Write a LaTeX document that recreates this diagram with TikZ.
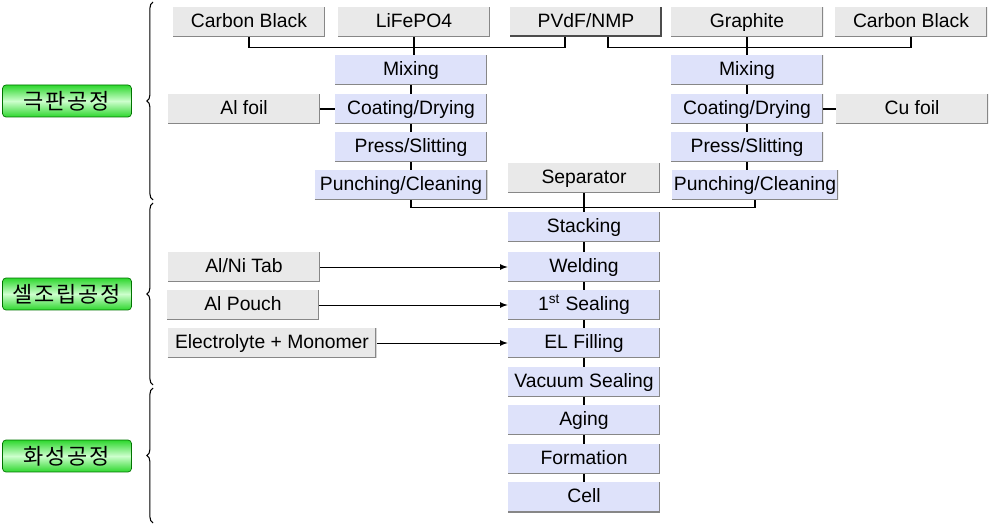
\documentclass[tikz,border=0pt]{standalone}
\usepackage{fontspec}
\setmainfont{Liberation Sans}
\newfontfamily\krfont[LetterSpace=8]{Noto Sans CJK KR}
\usetikzlibrary{arrows}
\usetikzlibrary{calc}
\usetikzlibrary{decorations.pathreplacing}

\definecolor{boxgray}{RGB}{233,233,233}
\definecolor{boxblue}{RGB}{222,226,250}
\definecolor{edgegray}{RGB}{135,135,135}
\definecolor{stagegreen}{RGB}{45,215,45}
\definecolor{stagelight}{RGB}{205,255,205}

\tikzset{
	procbox/.style={minimum width=3.04cm, minimum height=0.6cm, inner sep=0pt,
			text height=8.6pt, text depth=1.8pt,
			font=\fontsize{11}{13}\selectfont,
			path picture={\draw[edgegray, line width=1.3pt]
				(path picture bounding box.south west) -- (path picture bounding box.south east)
				-- (path picture bounding box.north east);}},
	graybox/.style={procbox, fill=boxgray},
	bluebox/.style={procbox, fill=boxblue},
	stage/.style={minimum width=2.58cm, minimum height=0.64cm, inner sep=0pt,
			rounded corners=2pt, draw=green!45!black,
			top color=stagegreen, bottom color=stagegreen, middle color=stagelight,
			font=\krfont\fontsize{12.5}{14}\selectfont},
	link/.style={line width=0.6pt},
	feed/.style={line width=0.5pt, -latex}
}

\begin{document}
\begin{tikzpicture}[x=0.02cm, y=-0.02cm]
	\useasboundingbox (0,0) rectangle (989,526);

	% stages
	\node[stage] (s1) at (67,101) {극판공정};
	\node[stage] (s2) at (67,294) {셀조립공정};
	\node[stage] (s3) at (67,456) {화성공정};

	\draw[decorate, decoration={brace, amplitude=3.5pt}, line width=0.6pt] (153,200) -- (153,2);
	\draw[decorate, decoration={brace, amplitude=3.5pt}, line width=0.6pt] (153,385) -- (153,203);
	\draw[decorate, decoration={brace, amplitude=3.5pt}, line width=0.6pt] (153,523) -- (153,388);

	% materials
	\node[graybox] (cbl) at (249,22) {Carbon Black};
	\node[graybox] (lfp) at (414,22) {LiFePO4};
	\node[graybox, path picture={\draw[black!70, line width=2pt]
			(path picture bounding box.south west) -- (path picture bounding box.south east)
			-- (path picture bounding box.north east);}] (pvdf) at (586,22) {PVdF/NMP};
	\node[graybox] (graph) at (747,22) {Graphite};
	\node[graybox] (cbr) at (911,22) {Carbon Black};

	% cathode
	\node[bluebox] (mixl) at (411,70) {Mixing};
	\node[bluebox] (coatl) at (411,109) {Coating/Drying};
	\node[bluebox] (pressl) at (411,147) {Press/Slitting};
	\node[bluebox, minimum width=3.46cm] (punchl) at (401,185) {Punching/Cleaning};
	\node[graybox] (alfoil) at (244,109) {Al foil};

	% anode
	\node[bluebox] (mixr) at (747,70) {Mixing};
	\node[bluebox] (coatr) at (747,109) {Coating/Drying};
	\node[bluebox] (pressr) at (747,147) {Press/Slitting};
	\node[bluebox, minimum width=3.32cm] (punchr) at (755,185) {Punching/Cleaning};
	\node[graybox] (cufoil) at (912,109) {Cu foil};

	\node[graybox] (sep) at (584,178) {Separator};

	% cell assembly
	\node[bluebox] (stack) at (584,227) {Stacking};
	\node[bluebox] (weld) at (584,267) {Welding};
	\node[bluebox] (seal) at (584,305) {1\textsuperscript{st} Sealing};
	\node[bluebox] (fill) at (584,343) {EL Filling};
	\node[bluebox] (vac) at (584,382) {Vacuum Sealing};
	\node[bluebox] (aging) at (584,420) {Aging};
	\node[bluebox] (form) at (584,459) {Formation};
	\node[bluebox] (cell) at (584,497) {Cell};

	\node[graybox] (tab) at (244,267) {Al/Ni Tab};
	\node[graybox] (pouch) at (243,305) {Al Pouch};
	\node[graybox, minimum width=4.18cm] (elec) at (272,343) {Electrolyte + Monomer};

	% connectors
	\draw[link] (cbl.south) -- ++(0,10) -| ($(pvdf.south)+(-21,0)$);
	\draw[link] ($(pvdf.south)+(22,0)$) -- ++(0,10) -| (cbr.south);
	\draw[link] (lfp.south) -- (lfp.south |- mixl.north);
	\draw[link] (graph.south) -- (graph.south |- mixr.north);

	\foreach \a/\b in {mixl/coatl, coatl/pressl, pressl/punchl, mixr/coatr, coatr/pressr, pressr/punchr}
		\draw[link] (\a.south) -- (\a.south |- \b.north);

	\draw[link] (alfoil.east) -- (coatl.west);
	\draw[link] (coatr.east) -- (cufoil.west);

	\draw[link] (punchl.south -| pressl.south) -- ++(0,7) -| (punchr.south);

	\foreach \a/\b in {sep/stack, stack/weld, weld/seal, seal/fill, fill/vac, vac/aging, aging/form, form/cell}
		\draw[link] (\a.south) -- (\b.north);

	\draw[feed] (tab.east) -- (weld.west);
	\draw[feed] (pouch.east) -- (seal.west);
	\draw[feed] (elec.east) -- (fill.west);
\end{tikzpicture}
\end{document}
